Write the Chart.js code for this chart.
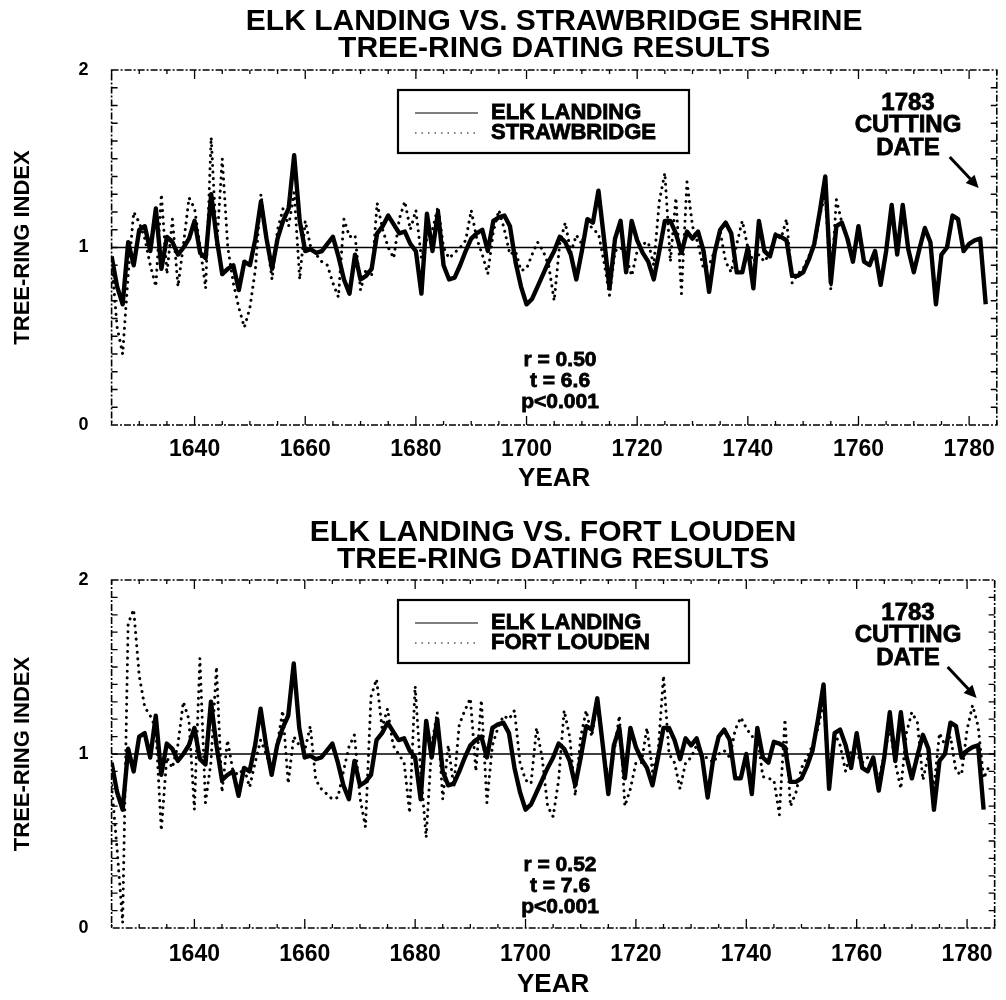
<!DOCTYPE html>
<html>
<head>
<meta charset="utf-8">
<script src="https://cdn.jsdelivr.net/npm/chart.js@4.4.0/dist/chart.umd.min.js"></script>
<style>
  html, body { margin: 0; padding: 0; background: #fff; }
  #wrap { position: relative; width: 1006px; height: 1000px; }
  canvas { position: absolute; left: 0; }
</style>
</head>
<body>
<div id="wrap">
  <canvas id="panel1" width="1006" height="500" style="top:0"></canvas>
  <canvas id="panel2" width="1006" height="495" style="top:505px"></canvas>
</div>
<script>
// years of the ring series (index i of every series below belongs to years[i])
const years = [
  1625, 1626, 1627, 1628, 1629, 1630, 1631, 1632, 1633, 1634,
  1635, 1636, 1637, 1638, 1639, 1640, 1641, 1642, 1643, 1644,
  1645, 1646, 1647, 1648, 1649, 1650, 1651, 1652, 1653, 1654,
  1655, 1656, 1657, 1658, 1659, 1660, 1661, 1662, 1663, 1664,
  1665, 1666, 1667, 1668, 1669, 1670, 1671, 1672, 1673, 1674,
  1675, 1676, 1677, 1678, 1679, 1680, 1681, 1682, 1683, 1684,
  1685, 1686, 1687, 1688, 1689, 1690, 1691, 1692, 1693, 1694,
  1695, 1696, 1697, 1698, 1699, 1700, 1701, 1702, 1703, 1704,
  1705, 1706, 1707, 1708, 1709, 1710, 1711, 1712, 1713, 1714,
  1715, 1716, 1717, 1718, 1719, 1720, 1721, 1722, 1723, 1724,
  1725, 1726, 1727, 1728, 1729, 1730, 1731, 1732, 1733, 1734,
  1735, 1736, 1737, 1738, 1739, 1740, 1741, 1742, 1743, 1744,
  1745, 1746, 1747, 1748, 1749, 1750, 1751, 1752, 1753, 1754,
  1755, 1756, 1757, 1758, 1759, 1760, 1761, 1762, 1763, 1764,
  1765, 1766, 1767, 1768, 1769, 1770, 1771, 1772, 1773, 1774,
  1775, 1776, 1777, 1778, 1779, 1780, 1781, 1782, 1783, 1784
];

// Elk Landing, 1625-1783
const elkLanding = [
  0.95, 0.78, 0.68, 1.03, 0.90, 1.10, 1.12, 0.98, 1.22, 0.88,
  1.06, 1.03, 0.96, 1.00, 1.05, 1.15, 0.97, 0.94, 1.30, 1.05,
  0.85, 0.88, 0.90, 0.76, 0.92, 0.90, 1.05, 1.26, 1.05, 0.88,
  1.05, 1.15, 1.22, 1.52, 1.15, 0.98, 0.99, 0.97, 0.98, 1.02,
  1.06, 0.95, 0.82, 0.74, 0.96, 0.82, 0.84, 0.88, 1.08, 1.12,
  1.18, 1.13, 1.08, 1.09, 1.02, 0.98, 0.74, 1.19, 0.98, 1.20,
  0.90, 0.82, 0.83, 0.90, 0.98, 1.05, 1.08, 1.10, 0.98, 1.15,
  1.17, 1.18, 1.12, 0.92, 0.78, 0.68, 0.71, 0.78, 0.85, 0.92,
  0.98, 1.06, 1.03, 0.96, 0.82, 0.98, 1.16, 1.14, 1.32, 1.05,
  0.77, 1.05, 1.15, 0.86, 1.15, 1.04, 0.97, 0.92, 0.82, 0.98,
  1.15, 1.15, 1.08, 0.97, 1.09, 1.05, 1.09, 0.98, 0.75, 0.97,
  1.10, 1.14, 1.08, 0.86, 0.86, 1.00, 0.77, 1.15, 0.98, 0.95,
  1.07, 1.06, 1.04, 0.84, 0.84, 0.86, 0.93, 1.02, 1.20, 1.40,
  0.80, 1.12, 1.14, 1.05, 0.92, 1.12, 0.92, 0.90, 0.98, 0.79,
  0.98, 1.24, 0.96, 1.24, 0.99, 0.86, 0.99, 1.11, 1.03, 0.68,
  0.96, 1.00, 1.18, 1.16, 0.98, 1.02, 1.04, 1.05, 0.68
];

// Strawbridge Shrine, 1625-1757
const strawbridge = [
  0.92, 0.55, 0.40, 0.85, 1.20, 1.14, 1.05, 0.90, 0.78, 1.30,
  0.85, 1.16, 0.78, 1.02, 1.28, 1.22, 1.00, 0.77, 1.62, 1.00,
  1.50, 1.00, 0.80, 0.66, 0.55, 0.66, 0.88, 1.30, 1.05, 0.82,
  1.10, 1.22, 1.12, 1.31, 0.82, 1.15, 1.00, 0.96, 0.92, 0.90,
  0.80, 0.72, 1.16, 1.06, 1.07, 0.76, 0.88, 0.84, 1.25, 1.10,
  1.00, 0.94, 1.16, 1.26, 1.10, 1.21, 0.94, 1.05, 1.10, 1.23,
  1.00, 0.94, 0.97, 1.00, 1.04, 1.21, 1.05, 0.96, 0.85, 1.09,
  1.21, 1.10, 0.96, 0.98, 0.87, 0.88, 0.96, 1.03, 0.98, 0.90,
  0.70, 1.02, 1.14, 0.97, 1.07, 1.02, 1.15, 1.10, 1.08, 0.92,
  0.73, 0.98, 1.00, 0.95, 0.84, 0.98, 1.02, 1.03, 0.90, 1.26,
  1.42, 0.92, 1.28, 0.74, 1.37, 1.12, 1.02, 0.88, 0.90, 0.98,
  1.09, 0.92, 0.86, 1.02, 1.15, 1.00, 0.92, 0.96, 0.92, 0.97,
  1.08, 1.05, 1.16, 0.80, 0.85, 0.88, 0.95, 1.00, 1.18, 1.30,
  0.76, 1.27, 1.14
];

// Fort Louden, 1625-1784
const fortLouden = [
  0.82, 0.45, 0.03, 1.75, 1.83, 1.45, 1.27, 1.22, 1.15, 0.56,
  0.98, 0.92, 1.05, 1.30, 1.20, 0.68, 1.55, 0.72, 0.95, 1.50,
  0.78, 1.08, 0.90, 0.88, 0.92, 0.81, 0.95, 1.08, 1.00, 0.90,
  1.05, 1.25, 0.83, 1.10, 1.05, 1.02, 1.16, 0.85, 0.80, 0.77,
  0.74, 0.75, 0.90, 1.04, 1.11, 0.75, 0.58, 1.33, 1.43, 1.15,
  1.26, 1.05, 1.00, 0.95, 0.66, 1.39, 0.90, 0.52, 1.05, 1.24,
  0.74, 1.05, 0.81, 1.17, 1.25, 1.32, 0.90, 1.31, 0.72, 1.05,
  1.15, 1.22, 1.20, 1.25, 0.95, 0.85, 0.83, 1.15, 0.98, 0.70,
  0.64, 0.85, 1.25, 1.10, 0.76, 1.10, 1.25, 1.10, 1.30, 1.05,
  0.85, 1.00, 1.22, 0.70, 0.80, 0.95, 0.95, 1.15, 0.90, 1.00,
  1.45, 1.00, 0.95, 0.80, 0.95, 0.98, 1.05, 0.98, 0.98, 0.95,
  1.00, 1.02, 0.98, 1.14, 1.21, 1.15, 1.10, 1.10, 0.87, 0.86,
  0.85, 0.65, 1.20, 0.70, 0.78, 0.92, 0.98, 1.05, 1.15, 1.30,
  0.82, 1.12, 1.05, 0.90, 1.02, 1.00, 0.95, 0.98, 0.95, 0.85,
  1.00, 1.15, 0.95, 0.80, 1.12, 1.24, 1.18, 0.85, 1.00, 0.80,
  1.12, 1.05, 1.10, 0.90, 0.88, 1.14, 1.28, 1.16, 0.86, 0.93
];

const yearLabels = [1640, 1660, 1680, 1700, 1720, 1740, 1760, 1780];
const cuttingYear = 1783;

const FONT = "'Liberation Sans', Arial, Helvetica, sans-serif";

function toPoints(values) {
  return values.map((v, i) => ({ x: years[i], y: v }));
}

// frame, inward ticks, reference line, in-plot legend and notes
const decor = {
  id: "decor",
  beforeDatasetsDraw(chart, args, o) {
    const { ctx, chartArea: a, scales: { x, y } } = chart;
    ctx.save();
    ctx.strokeStyle = "#000";
    ctx.lineWidth = 1.4;
    const y1 = y.getPixelForValue(1);
    ctx.beginPath();
    ctx.moveTo(a.left, y1);
    ctx.lineTo(a.right, y1);
    ctx.stroke();

    ctx.lineWidth = 1.3;
    ctx.beginPath();
    for (let yr = 1625; yr <= 1785; yr += 5) {
      const px = x.getPixelForValue(yr);
      const len = yearLabels.includes(yr) ? 9 : 4;
      ctx.moveTo(px, a.bottom);
      ctx.lineTo(px, a.bottom - len);
      ctx.moveTo(px, a.top);
      ctx.lineTo(px, a.top + len);
    }
    for (let k = 1; k < 20; k++) {
      const py = y.getPixelForValue(k / 10);
      ctx.moveTo(a.left, py);
      ctx.lineTo(a.left + 6, py);
      ctx.moveTo(a.right, py);
      ctx.lineTo(a.right - 6, py);
    }
    ctx.stroke();

    ctx.lineWidth = 1.6;
    ctx.setLineDash([7, 2, 2, 2]);
    ctx.strokeRect(a.left, a.top, a.right - a.left, a.bottom - a.top);
    ctx.restore();
  },
  afterDatasetsDraw(chart, args, o) {
    const { ctx, chartArea: a, scales: { x } } = chart;
    ctx.save();
    ctx.fillStyle = "#000";
    ctx.strokeStyle = "#000";

    // legend box
    const bx = 398, by = a.top + 20, bw = 291, bh = 63;
    ctx.fillStyle = "#fff";
    ctx.fillRect(bx, by, bw, bh);
    ctx.fillStyle = "#000";
    ctx.lineWidth = 2.2;
    ctx.strokeRect(bx, by, bw, bh);
    const rows = [by + 23, by + 43];
    ctx.lineWidth = 1.2;
    ctx.beginPath();
    ctx.moveTo(415, rows[0]);
    ctx.lineTo(478, rows[0]);
    ctx.stroke();
    ctx.setLineDash([1.5, 5]);
    ctx.beginPath();
    ctx.moveTo(415, rows[1]);
    ctx.lineTo(478, rows[1]);
    ctx.stroke();
    ctx.setLineDash([]);
    ctx.font = "bold 22px " + FONT;
    ctx.textBaseline = "middle";
    ctx.textAlign = "left";
    ctx.lineWidth = 0.8;
    o.names.forEach((t, i) => {
      ctx.fillText(t, 491, rows[i]);
      ctx.strokeText(t, 491, rows[i]);
    });

    // cutting date note and arrow
    const xc = x.getPixelForValue(cuttingYear);
    ctx.textAlign = "center";
    ctx.font = "bold 24px " + FONT;
    o.note.forEach((t, i) => {
      ctx.fillText(t, 908, a.top + 33 + i * 22.5);
      ctx.strokeText(t, 908, a.top + 33 + i * 22.5);
    });
    const ax0 = xc - 36, ay0 = a.top + 87, ax1 = xc - 7, ay1 = a.top + 118;
    ctx.lineWidth = 3;
    ctx.beginPath();
    ctx.moveTo(ax0, ay0);
    ctx.lineTo(ax1 - 5, ay1 - 5.5);
    ctx.stroke();
    const ang = Math.atan2(ay1 - ay0, ax1 - ax0);
    ctx.beginPath();
    ctx.moveTo(ax1, ay1);
    ctx.lineTo(ax1 - 14 * Math.cos(ang - 0.45), ay1 - 14 * Math.sin(ang - 0.45));
    ctx.lineTo(ax1 - 14 * Math.cos(ang + 0.45), ay1 - 14 * Math.sin(ang + 0.45));
    ctx.closePath();
    ctx.fill();

    // statistics
    ctx.font = "bold 21px " + FONT;
    ctx.lineWidth = 0.8;
    o.stats.forEach((t, i) => {
      ctx.fillText(t, 560, a.top + o.statsTop + i * 21);
      ctx.strokeText(t, 560, a.top + o.statsTop + i * 21);
    });
    ctx.restore();
  }
};

function makePanel(id, cfg) {
  return new Chart(document.getElementById(id), {
    type: "line",
    data: {
      datasets: [
        {
          label: "ELK LANDING",
          data: toPoints(elkLanding),
          borderColor: "#000",
          borderWidth: 4.4,
          borderJoinStyle: "round",
          pointRadius: 0,
          tension: 0
        },
        {
          label: cfg.otherName,
          data: toPoints(cfg.other),
          borderColor: "#000",
          borderWidth: 3,
          borderDash: [0.1, 6.5],
          borderCapStyle: "round",
          pointRadius: 0,
          tension: 0
        }
      ]
    },
    options: {
      responsive: false,
      animation: false,
      events: [],
      layout: { padding: { left: 0, right: 5, top: 0, bottom: 0 } },
      plugins: {
        legend: { display: false },
        tooltip: { enabled: false },
        title: {
          display: true,
          text: cfg.title,
          fullSize: false,
          color: "#000",
          font: { family: FONT, size: 30, weight: "bold", lineHeight: 0.9 },
          padding: { top: cfg.titleTop, bottom: cfg.titleBottom }
        },
        decor: {
          names: ["ELK LANDING", cfg.otherName],
          note: [String(cuttingYear), "CUTTING", "DATE"],
          stats: cfg.stats,
          statsTop: cfg.statsTop
        }
      },
      scales: {
        x: {
          type: "linear",
          min: 1625,
          max: 1785,
          grid: { display: false, drawTicks: false },
          border: { display: false },
          afterBuildTicks: (s) => { s.ticks = yearLabels.map((v) => ({ value: v })); },
          ticks: {
            autoSkip: false,
            maxRotation: 0,
            padding: cfg.xPad,
            color: "#000",
            font: { family: FONT, size: 23, weight: "bold" },
            callback: (v) => String(v)
          },
          title: {
            display: true,
            text: "YEAR",
            color: "#000",
            font: { family: FONT, size: 26, weight: "bold" },
            padding: { top: 0, bottom: cfg.yearPad }
          },
          afterFit: (s) => { s.height = cfg.xAxisH; }
        },
        y: {
          min: 0,
          max: 2,
          grid: { display: false, drawTicks: false },
          border: { display: false },
          ticks: {
            stepSize: 1,
            padding: 23,
            color: "#000",
            font: { family: FONT, size: 18, weight: "bold" }
          },
          title: {
            display: true,
            text: "TREE-RING INDEX",
            color: "#000",
            font: { family: FONT, size: 22, weight: "bold" },
            padding: { top: 10, bottom: 0 }
          },
          afterFit: (s) => { s.width = 111.6; }
        }
      }
    },
    plugins: [decor]
  });
}

makePanel("panel1", {
  title: ["ELK LANDING VS. STRAWBRIDGE SHRINE", "TREE-RING DATING RESULTS"],
  otherName: "STRAWBRIDGE",
  other: strawbridge,
  stats: ["r = 0.50", "t = 6.6", "p<0.001"],
  statsTop: 290,
  titleTop: 8,
  titleBottom: 8,
  xAxisH: 75,
  xPad: 11,
  yearPad: 6
});

makePanel("panel2", {
  title: ["ELK LANDING VS. FORT LOUDEN", "TREE-RING DATING RESULTS"],
  otherName: "FORT LOUDEN",
  other: fortLouden,
  stats: ["r = 0.52", "t = 7.6", "p<0.001"],
  statsTop: 285,
  titleTop: 14,
  titleBottom: 7,
  xAxisH: 72,
  xPad: 13,
  yearPad: 0
});
</script>
</body>
</html>
